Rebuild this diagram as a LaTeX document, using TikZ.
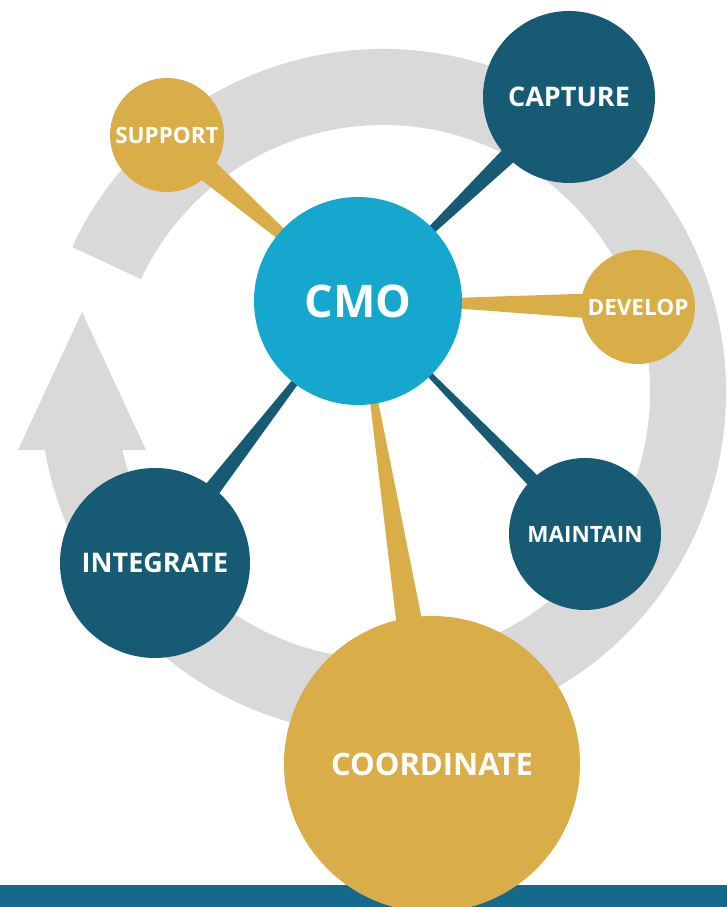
\documentclass[tikz,border=0pt]{standalone}
\usepackage{fontspec}
\setmainfont{Open Sans}
\usetikzlibrary{calc,backgrounds}

\definecolor{ringgray}{HTML}{D9D9D9}
\definecolor{cmoblue}{HTML}{15A7CE}
\definecolor{tealdark}{HTML}{165A73}
\definecolor{goldc}{HTML}{D9AD48}
\definecolor{barblue}{HTML}{156A8B}

\newcommand{\fs}[1]{\fontsize{#1}{#1}\selectfont}

\begin{document}
\begin{tikzpicture}
	[x=1pt,y=1pt,every node/.style={circle,inner sep=0pt,text=white,font=\bfseries},
	gold/.style={fill=goldc}, deep/.style={fill=tealdark}]
	\useasboundingbox (0,0) rectangle (727,907);
	\fill[barblue] (0,0) rectangle (727,22);

	\node[fill=cmoblue,minimum size=208pt] (cmo) at (358,606) {\fs{45}CMO};
	\node[gold,minimum size=114pt] (sup) at (167,772) {\fs{22.5}SUPPORT};
	\node[deep,minimum size=172pt] (cap) at (569,810) {\fs{27}CAPTURE};
	\node[gold,minimum size=114pt] (dev) at (638,600) {\fs{22.5}DEVELOP};
	\node[deep,minimum size=152pt] (mnt) at (585,373) {\fs{22.5}MAINTAIN};
	\node[deep,minimum size=190pt] (int) at (155,344) {\fs{27}INTEGRATE};
	\node[gold,minimum size=296pt] (crd) at (432,143) {\fs{31}COORDINATE};

	\begin{scope}[on background layer]
		% cycle ring with its arrow head
		\fill[ringgray] ($(383,515)+(155:343)$) arc[start angle=155,end angle=-171,radius=343]
			-- ($(383,515)+(-171:267)$) arc[start angle=-171,end angle=155,radius=267] -- cycle;
		\fill[ringgray] (18,457) -- (82,595) -- (146,457) -- cycle;

		\foreach \to/\w/\c in {sup/14.5/goldc,cap/11.7/tealdark,dev/15/goldc,mnt/8.8/tealdark,int/11.3/tealdark,crd/18.6/goldc}
		\fill[\c] (cmo.center) -- ($(\to.center)!\w pt!90:(cmo.center)$) -- ($(\to.center)!\w pt!-90:(cmo.center)$) -- cycle;
	\end{scope}
\end{tikzpicture}
\end{document}
